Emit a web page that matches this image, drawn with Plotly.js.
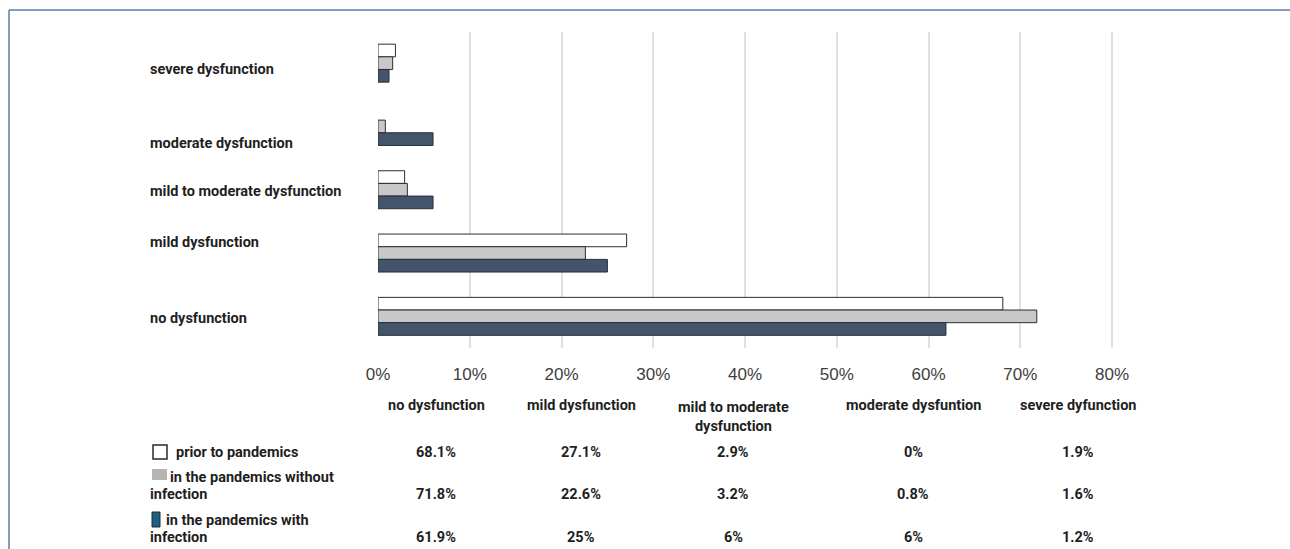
<!DOCTYPE html>
<html>
<head>
<meta charset="utf-8">
<script src="https://cdn.plot.ly/plotly-3.0.1.min.js"></script>
<style>html,body{margin:0;padding:0;background:#fff;}#chart{width:1290px;height:549px;}</style>
</head>
<body>
<div id="chart"></div>
<script>
// ---- data ----
const categories = ["no dysfunction", "mild dysfunction", "mild to moderate dysfunction", "moderate dysfunction", "severe dysfunction"];
const tableHeaders = ["no dysfunction", "mild dysfunction", "mild to moderate<br>dysfunction", "moderate dysfuntion", "severe dyfunction"];
const seriesNames = ["prior to pandemics", "in the pandemics without<br>infection", "in the pandemics with<br>infection"];
const priorToPandemics = [68.1, 27.1, 2.9, 0, 1.9];
const pandemicsWithoutInfection = [71.8, 22.6, 3.2, 0.8, 1.6];
const pandemicsWithInfection = [61.9, 25, 6, 6, 1.2];
const xTickVals = [0, 10, 20, 30, 40, 50, 60, 70, 80];
const xTickText = ["0%", "10%", "20%", "30%", "40%", "50%", "60%", "70%", "80%"];

// ---- styling ----
const W = 1290, H = 549;
const px = v => v / W;
const py = v => 1 - v / H;
const seriesValues = [priorToPandemics, pandemicsWithoutInfection, pandemicsWithInfection];
const fills = ["#ffffff", "#c8c8c8", "#44546a"];
const outlines = ["#2e2e2e", "#2e2e2e", "#26303d"];
const boldFont = {family: "Liberation Sans Narrow, Roboto, Liberation Sans, sans-serif", size: 14.5, color: "#1f1f1f", weight: "bold"};
// small vertical nudges of the category labels (pixels), as in the reference layout
const labelShiftPx = [-2, 11, -2, -17, -6];

const traces = seriesValues.map((vals, i) => ({
  type: "bar",
  orientation: "h",
  name: seriesNames[i].replace("<br>", " "),
  x: vals,
  y: categories,
  marker: {color: fills[i], line: {color: outlines[i], width: vals.map(v => v === 0 ? 0 : 1)}},
  hoverinfo: "x+y"
}));

const annotations = [];
// category labels (left aligned)
categories.forEach((c, k) => annotations.push({
  xref: "paper", yref: "y", x: px(148), y: c, xanchor: "left", yanchor: "middle", yshift: labelShiftPx[k],
  text: c, showarrow: false, font: boldFont
}));
// table headers
const colX = [436, 581, 733, 913, 1078];
tableHeaders.forEach((h, j) => annotations.push({
  xref: "paper", yref: "paper", x: px(colX[j]), y: py(h.indexOf("<br>") >= 0 ? 417 : 405),
  xanchor: "center", yanchor: "middle", text: h, showarrow: false, font: boldFont
}));
// table row labels and values
const rowY = [452, 494, 537];
const firstLineX = [174, 168, 164];
seriesNames.forEach((n, i) => {
  const lines = n.split("<br>");
  lines.forEach((ln, k) => {
    const yy = lines.length === 1 ? rowY[i] : rowY[i] - 17 * (lines.length - 1 - k);
    annotations.push({
      xref: "paper", yref: "paper", x: px(k === 0 ? firstLineX[i] : 148), y: py(yy), xanchor: "left", yanchor: "middle",
      text: ln, showarrow: false, align: "left", font: boldFont
    });
  });
  seriesValues[i].forEach((v, j) => annotations.push({
    xref: "paper", yref: "paper", x: px(colX[j]), y: py(rowY[i]),
    xanchor: "center", yanchor: "middle", text: v + "%", showarrow: false, font: boldFont
  }));
});

const shapes = [
  // frame
  {type: "line", xref: "paper", yref: "paper", x0: px(9), x1: px(9), y0: py(10), y1: py(549), line: {color: "#5a7ea6", width: 1.5}},
  {type: "line", xref: "paper", yref: "paper", x0: px(9), x1: px(1290), y0: py(10), y1: py(10), line: {color: "#5a7ea6", width: 1.5}},
  // table legend keys
  {type: "rect", xref: "paper", yref: "paper", x0: px(153), x1: px(167), y0: py(459), y1: py(445), fillcolor: "#ffffff", line: {color: "#1f2a36", width: 1.5}},
  {type: "rect", xref: "paper", yref: "paper", x0: px(152), x1: px(167), y0: py(480), y1: py(469), fillcolor: "#b4b4b4", line: {width: 0}},
  {type: "rect", xref: "paper", yref: "paper", x0: px(152), x1: px(160), y0: py(527), y1: py(512), fillcolor: "#1f5f82", line: {color: "#1c2a36", width: 1}}
];

const layout = {
  width: W, height: H,
  margin: {l: 0, r: 0, t: 0, b: 0},
  paper_bgcolor: "#ffffff", plot_bgcolor: "#ffffff",
  showlegend: false,
  barmode: "group", bargap: 0.4, bargroupgap: 0,
  xaxis: {
    domain: [px(378), px(378 + 81 * 9.175)], range: [0, 81], automargin: false,
    tickvals: xTickVals, ticktext: xTickText, showgrid: true, gridcolor: "#e0e0e0", gridwidth: 2,
    zeroline: false, showline: false, ticks: "", ticklabelstandoff: 14,
    tickfont: {family: "Liberation Sans, Arial, sans-serif", size: 17, color: "#404040"}
  },
  yaxis: {
    domain: [py(348), py(31.5)], automargin: false, type: "category",
    categoryorder: "array", categoryarray: categories.slice().reverse(), autorange: "reversed",
    showticklabels: false, showgrid: false, zeroline: false, showline: false, ticks: ""
  },
  annotations: annotations,
  shapes: shapes
};

Plotly.newPlot("chart", traces, layout, {displayModeBar: false, staticPlot: true});
</script>
</body>
</html>
